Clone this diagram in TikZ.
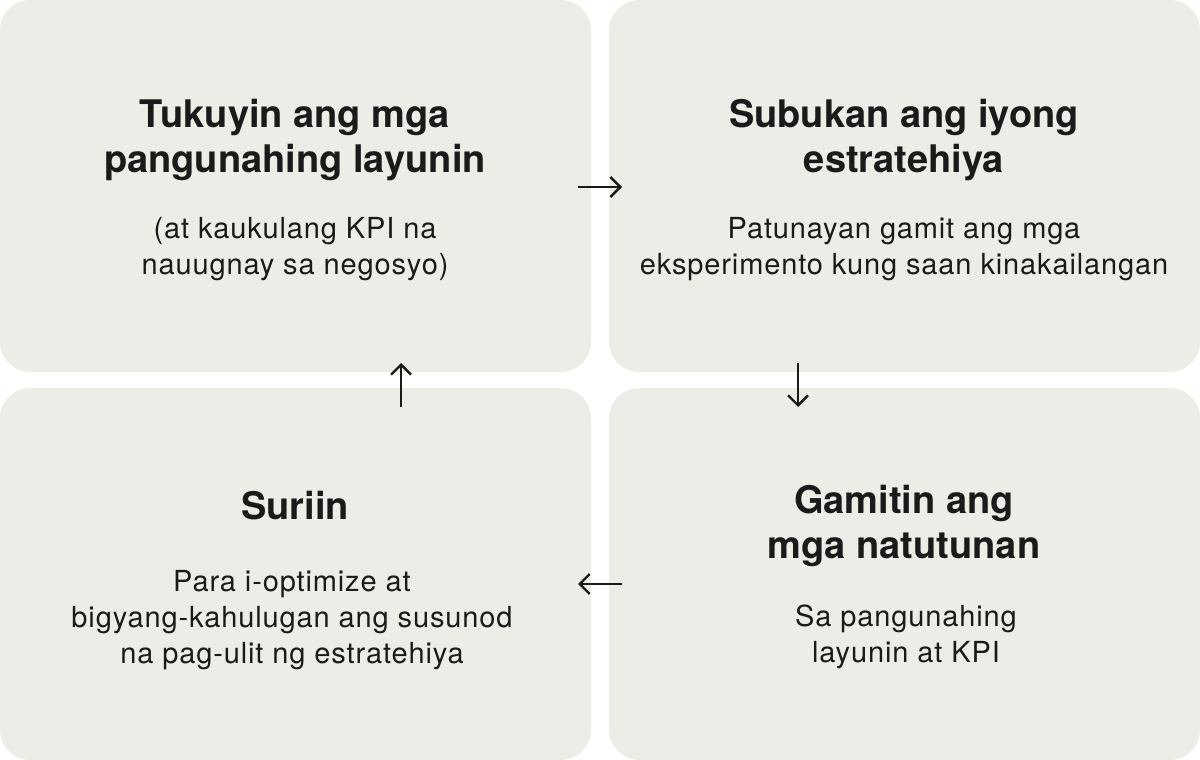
\documentclass[tikz,border=0pt]{standalone}
\usepackage{fontspec}
\setmainfont{TeX Gyre Heros}
\newfontfamily\bodyfont[LetterSpace=3]{TeX Gyre Heros}
\usetikzlibrary{arrows.meta,positioning}
\definecolor{boxgray}{HTML}{EDEDE8}
\definecolor{ink}{HTML}{1A1A1A}
\tikzset{
	box/.style={fill=boxgray, rounded corners=30pt, inner sep=0pt,
		minimum width=591pt, minimum height=372pt},
	title/.style={font=\fontsize{38}{45}\selectfont\bfseries, text=ink,
		align=center, anchor=base},
	body/.style={font=\bodyfont\fontsize{29}{36}\selectfont, text=ink,
		align=center, anchor=base},
	flow/.style={-{Straight Barb[length=10pt,width=20pt]}, line width=2.4pt, draw=ink},
}

\begin{document}
\begin{tikzpicture}[x=1pt, y=-1pt]
\useasboundingbox (0,0) rectangle (1200,760);
% the boxes
\node[box] at (295.5,186) (tl) {};
\node[box] at (904.5,186) (tr) {};
\node[box] at (295.5,574) (bl) {};
\node[box] at (904.5,574) (br) {};

% the names (anchored at the last baseline)
\node[title] at (295,172) (tlhead) {Tukuyin ang mga\\pangunahing layunin};
\node[body] at (295,274) (tltext) {(at kaukulang KPI na\\nauugnay sa negosyo)};
\node[title] at (904,172) (trhead) {Subukan ang iyong\\estratehiya};
\node[body] at (904,274) (trtext) {Patunayan gamit ang mga\\eksperimento kung saan kinakailangan};
\node[title] at (904,558) (brhead) {Gamitin ang\\mga natutunan};
\node[body] at (906,662) (brtext) {Sa pangunahing\\layunin at KPI};
\node[title] at (295,519) (blhead) {Suriin};
\node[body] at (292,663) (bltext) {Para i-optimize at\\bigyang-kahulugan ang susunod\\na pag-ulit ng estratehiya};

% the arrows
\coordinate (a1) at (578,187);
\coordinate (b1) at (622,187);
\coordinate (a2) at (798,363);
\coordinate (b2) at (798,407);
\coordinate (a3) at (622,584);
\coordinate (b3) at (578,584);
\coordinate (a4) at (401,407);
\coordinate (b4) at (401,363);
\draw[flow] (a1) -- (b1);
\draw[flow] (a2) -- (b2);
\draw[flow] (a3) -- (b3);
\draw[flow] (a4) -- (b4);
\end{tikzpicture}
\end{document}
